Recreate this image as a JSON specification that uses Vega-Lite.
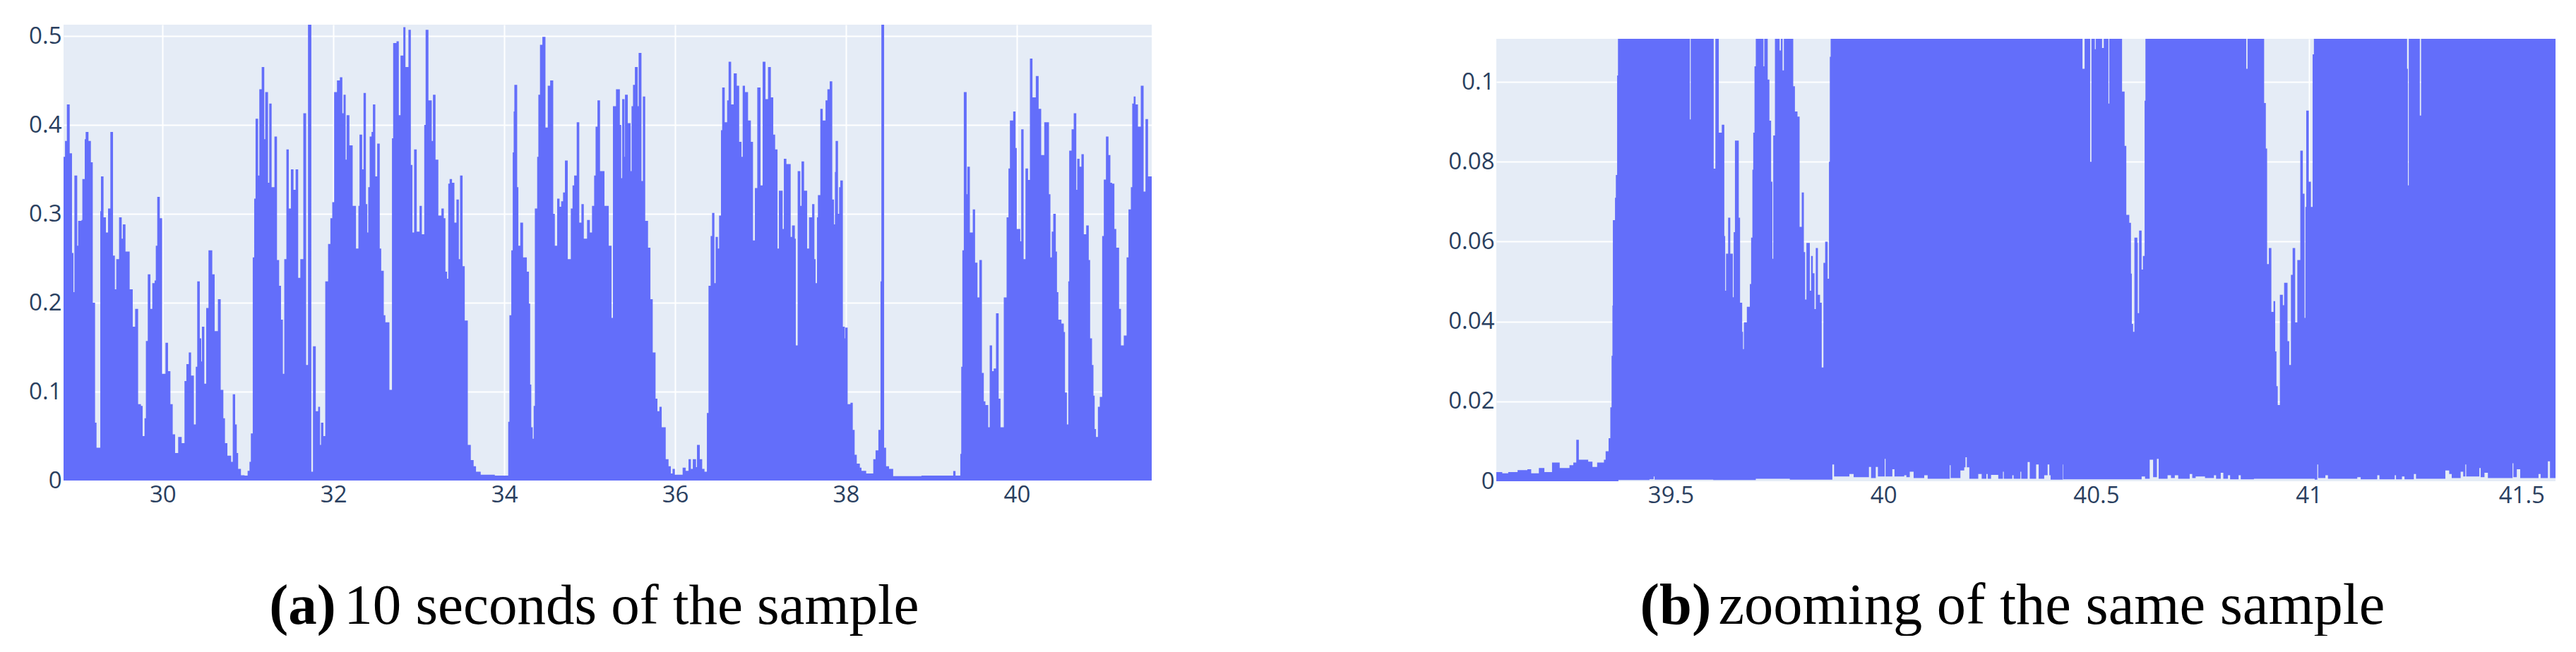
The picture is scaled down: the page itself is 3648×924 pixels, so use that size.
{"$schema":"https://vega.github.io/schema/vega-lite/v6.json","padding":{"left":40,"top":35,"right":0,"bottom":0},"background":"white","spacing":419,"config":{"view":{"fill":"#e5ecf6","stroke":null},"font":"Open Sans","axis":{"domain":false,"ticks":false,"grid":true,"gridColor":"white","gridWidth":2,"labelFont":"Open Sans","labelFontSize":33,"labelColor":"#2a3f5f","title":null,"labelPadding":3,"labelFlush":false,"labelOverlap":false}},
"datasets":{
"a":[{"t":28.84,"v":0.364},{"t":28.857,"v":0.382},{"t":28.879,"v":0.423},{"t":28.912,"v":0.368},{"t":28.939,"v":0.256},{"t":28.956,"v":0.212},{"t":28.967,"v":0.343},{"t":29.0,"v":0.264},{"t":29.011,"v":0.292},{"t":29.05,"v":0.293},{"t":29.06,"v":0.339},{"t":29.088,"v":0.384},{"t":29.099,"v":0.392},{"t":29.132,"v":0.382},{"t":29.16,"v":0.358},{"t":29.182,"v":0.2},{"t":29.209,"v":0.065},{"t":29.226,"v":0.037},{"t":29.27,"v":0.303},{"t":29.278,"v":0.342},{"t":29.308,"v":0.296},{"t":29.336,"v":0.279},{"t":29.361,"v":0.306},{"t":29.388,"v":0.392},{"t":29.419,"v":0.253},{"t":29.441,"v":0.215},{"t":29.457,"v":0.249},{"t":29.49,"v":0.296},{"t":29.521,"v":0.272},{"t":29.534,"v":0.288},{"t":29.565,"v":0.2575},{"t":29.614,"v":0.215},{"t":29.65,"v":0.173},{"t":29.678,"v":0.193},{"t":29.713,"v":0.086},{"t":29.746,"v":0.084},{"t":29.766,"v":0.05},{"t":29.788,"v":0.07},{"t":29.804,"v":0.157},{"t":29.826,"v":0.232},{"t":29.857,"v":0.193},{"t":29.879,"v":0.222},{"t":29.906,"v":0.225},{"t":29.92,"v":0.264},{"t":29.937,"v":0.319},{"t":29.967,"v":0.295},{"t":29.994,"v":0.12},{"t":30.033,"v":0.155},{"t":30.063,"v":0.123},{"t":30.091,"v":0.086},{"t":30.118,"v":0.052},{"t":30.146,"v":0.031},{"t":30.182,"v":0.049},{"t":30.223,"v":0.042},{"t":30.256,"v":0.112},{"t":30.278,"v":0.131},{"t":30.306,"v":0.144},{"t":30.333,"v":0.118},{"t":30.366,"v":0.063},{"t":30.388,"v":0.128},{"t":30.405,"v":0.224},{"t":30.435,"v":0.16},{"t":30.452,"v":0.134},{"t":30.46,"v":0.173},{"t":30.488,"v":0.109},{"t":30.51,"v":0.194},{"t":30.537,"v":0.259},{"t":30.581,"v":0.232},{"t":30.609,"v":0.168},{"t":30.647,"v":0.204},{"t":30.68,"v":0.102},{"t":30.711,"v":0.07},{"t":30.73,"v":0.042},{"t":30.758,"v":0.028},{"t":30.802,"v":0.021},{"t":30.821,"v":0.097},{"t":30.849,"v":0.063},{"t":30.868,"v":0.031},{"t":30.884,"v":0.013},{"t":30.917,"v":0.006},{"t":30.959,"v":0.0055},{"t":30.995,"v":0.011},{"t":31.017,"v":0.021},{"t":31.033,"v":0.053},{"t":31.055,"v":0.251},{"t":31.072,"v":0.317},{"t":31.088,"v":0.407},{"t":31.118,"v":0.343},{"t":31.132,"v":0.44},{"t":31.16,"v":0.465},{"t":31.19,"v":0.384},{"t":31.201,"v":0.437},{"t":31.234,"v":0.335},{"t":31.248,"v":0.424},{"t":31.276,"v":0.33},{"t":31.309,"v":0.387},{"t":31.339,"v":0.248},{"t":31.364,"v":0.219},{"t":31.386,"v":0.181},{"t":31.408,"v":0.12},{"t":31.424,"v":0.249},{"t":31.449,"v":0.3725},{"t":31.477,"v":0.306},{"t":31.502,"v":0.35},{"t":31.532,"v":0.327},{"t":31.557,"v":0.35},{"t":31.587,"v":0.228},{"t":31.612,"v":0.249},{"t":31.647,"v":0.413},{"t":31.68,"v":0.13},{"t":31.702,"v":0.52},{"t":31.741,"v":0.01},{"t":31.76,"v":0.151},{"t":31.793,"v":0.078},{"t":31.821,"v":0.083},{"t":31.843,"v":0.04},{"t":31.854,"v":0.065},{"t":31.882,"v":0.05},{"t":31.904,"v":0.224},{"t":31.937,"v":0.266},{"t":31.964,"v":0.295},{"t":31.986,"v":0.313},{"t":32.008,"v":0.437},{"t":32.041,"v":0.45},{"t":32.075,"v":0.4535},{"t":32.104,"v":0.413},{"t":32.118,"v":0.434},{"t":32.143,"v":0.361},{"t":32.154,"v":0.411},{"t":32.187,"v":0.377},{"t":32.225,"v":0.309},{"t":32.264,"v":0.261},{"t":32.292,"v":0.309},{"t":32.305,"v":0.389},{"t":32.336,"v":0.35},{"t":32.352,"v":0.436},{"t":32.38,"v":0.311},{"t":32.396,"v":0.279},{"t":32.407,"v":0.33},{"t":32.424,"v":0.387},{"t":32.446,"v":0.392},{"t":32.462,"v":0.423},{"t":32.49,"v":0.342},{"t":32.512,"v":0.379},{"t":32.542,"v":0.261},{"t":32.559,"v":0.236},{"t":32.589,"v":0.186},{"t":32.608,"v":0.178},{"t":32.655,"v":0.102},{"t":32.685,"v":0.385},{"t":32.699,"v":0.492},{"t":32.738,"v":0.494},{"t":32.765,"v":0.411},{"t":32.785,"v":0.478},{"t":32.818,"v":0.51},{"t":32.843,"v":0.465},{"t":32.878,"v":0.507},{"t":32.906,"v":0.355},{"t":32.925,"v":0.279},{"t":32.944,"v":0.3725},{"t":32.975,"v":0.28},{"t":33.008,"v":0.309},{"t":33.035,"v":0.277},{"t":33.063,"v":0.4},{"t":33.079,"v":0.507},{"t":33.112,"v":0.4276},{"t":33.151,"v":0.382},{"t":33.165,"v":0.434},{"t":33.195,"v":0.361},{"t":33.228,"v":0.298},{"t":33.264,"v":0.306},{"t":33.292,"v":0.295},{"t":33.311,"v":0.235},{"t":33.33,"v":0.227},{"t":33.344,"v":0.334},{"t":33.36,"v":0.339},{"t":33.388,"v":0.335},{"t":33.416,"v":0.29},{"t":33.44,"v":0.316},{"t":33.468,"v":0.249},{"t":33.482,"v":0.343},{"t":33.512,"v":0.241},{"t":33.537,"v":0.18},{"t":33.573,"v":0.04},{"t":33.608,"v":0.023},{"t":33.641,"v":0.016},{"t":33.669,"v":0.01},{"t":33.724,"v":0.0065},{"t":33.889,"v":0.0055},{"t":34.046,"v":0.066},{"t":34.06,"v":0.186},{"t":34.082,"v":0.259},{"t":34.099,"v":0.369},{"t":34.11,"v":0.415},{"t":34.118,"v":0.445},{"t":34.151,"v":0.33},{"t":34.165,"v":0.264},{"t":34.187,"v":0.29},{"t":34.22,"v":0.251},{"t":34.264,"v":0.235},{"t":34.289,"v":0.199},{"t":34.303,"v":0.108},{"t":34.316,"v":0.06},{"t":34.333,"v":0.047},{"t":34.344,"v":0.084},{"t":34.358,"v":0.306},{"t":34.385,"v":0.364},{"t":34.399,"v":0.434},{"t":34.418,"v":0.49},{"t":34.446,"v":0.499},{"t":34.482,"v":0.397},{"t":34.509,"v":0.444},{"t":34.537,"v":0.45},{"t":34.573,"v":0.3},{"t":34.592,"v":0.264},{"t":34.619,"v":0.317},{"t":34.647,"v":0.308},{"t":34.666,"v":0.314},{"t":34.688,"v":0.324},{"t":34.71,"v":0.36},{"t":34.743,"v":0.249},{"t":34.779,"v":0.306},{"t":34.799,"v":0.332},{"t":34.818,"v":0.343},{"t":34.848,"v":0.403},{"t":34.878,"v":0.29},{"t":34.903,"v":0.311},{"t":34.931,"v":0.272},{"t":34.969,"v":0.293},{"t":35.002,"v":0.279},{"t":35.027,"v":0.309},{"t":35.052,"v":0.343},{"t":35.069,"v":0.398},{"t":35.091,"v":0.4276},{"t":35.121,"v":0.348},{"t":35.173,"v":0.309},{"t":35.223,"v":0.264},{"t":35.256,"v":0.183},{"t":35.272,"v":0.421},{"t":35.308,"v":0.44},{"t":35.353,"v":0.4},{"t":35.369,"v":0.34},{"t":35.38,"v":0.429},{"t":35.408,"v":0.364},{"t":35.413,"v":0.434},{"t":35.446,"v":0.402},{"t":35.479,"v":0.348},{"t":35.49,"v":0.421},{"t":35.507,"v":0.445},{"t":35.529,"v":0.465},{"t":35.562,"v":0.421},{"t":35.573,"v":0.481},{"t":35.606,"v":0.337},{"t":35.623,"v":0.432},{"t":35.65,"v":0.292},{"t":35.683,"v":0.262},{"t":35.711,"v":0.204},{"t":35.738,"v":0.144},{"t":35.771,"v":0.092},{"t":35.793,"v":0.078},{"t":35.816,"v":0.083},{"t":35.843,"v":0.06},{"t":35.89,"v":0.024},{"t":35.923,"v":0.016},{"t":35.95,"v":0.008},{"t":35.97,"v":0.013},{"t":35.997,"v":0.0065},{"t":36.088,"v":0.0145},{"t":36.124,"v":0.011},{"t":36.157,"v":0.024},{"t":36.185,"v":0.013},{"t":36.207,"v":0.024},{"t":36.245,"v":0.015},{"t":36.256,"v":0.04},{"t":36.289,"v":0.024},{"t":36.317,"v":0.013},{"t":36.344,"v":0.01},{"t":36.372,"v":0.076},{"t":36.391,"v":0.219},{"t":36.416,"v":0.275},{"t":36.433,"v":0.301},{"t":36.46,"v":0.222},{"t":36.474,"v":0.274},{"t":36.501,"v":0.261},{"t":36.515,"v":0.298},{"t":36.537,"v":0.394},{"t":36.551,"v":0.442},{"t":36.581,"v":0.403},{"t":36.609,"v":0.4276},{"t":36.626,"v":0.471},{"t":36.656,"v":0.423},{"t":36.686,"v":0.458},{"t":36.722,"v":0.444},{"t":36.75,"v":0.381},{"t":36.777,"v":0.364},{"t":36.791,"v":0.444},{"t":36.818,"v":0.437},{"t":36.854,"v":0.405},{"t":36.887,"v":0.381},{"t":36.912,"v":0.27},{"t":36.934,"v":0.329},{"t":36.962,"v":0.442},{"t":37.0,"v":0.332},{"t":37.025,"v":0.471},{"t":37.058,"v":0.429},{"t":37.088,"v":0.465},{"t":37.121,"v":0.431},{"t":37.149,"v":0.389},{"t":37.171,"v":0.3725},{"t":37.199,"v":0.261},{"t":37.215,"v":0.326},{"t":37.259,"v":0.283},{"t":37.273,"v":0.362},{"t":37.303,"v":0.356},{"t":37.353,"v":0.274},{"t":37.369,"v":0.287},{"t":37.402,"v":0.272},{"t":37.413,"v":0.152},{"t":37.435,"v":0.348},{"t":37.466,"v":0.309},{"t":37.48,"v":0.359},{"t":37.51,"v":0.326},{"t":37.546,"v":0.261},{"t":37.568,"v":0.296},{"t":37.604,"v":0.311},{"t":37.631,"v":0.249},{"t":37.645,"v":0.222},{"t":37.661,"v":0.296},{"t":37.672,"v":0.321},{"t":37.7,"v":0.418},{"t":37.728,"v":0.405},{"t":37.761,"v":0.4276},{"t":37.783,"v":0.44},{"t":37.81,"v":0.449},{"t":37.84,"v":0.316},{"t":37.86,"v":0.288},{"t":37.871,"v":0.347},{"t":37.879,"v":0.382},{"t":37.907,"v":0.3},{"t":37.92,"v":0.33},{"t":37.934,"v":0.3375},{"t":37.964,"v":0.173},{"t":37.987,"v":0.16},{"t":37.992,"v":0.172},{"t":38.02,"v":0.086},{"t":38.053,"v":0.0875},{"t":38.08,"v":0.057},{"t":38.102,"v":0.029},{"t":38.127,"v":0.019},{"t":38.163,"v":0.0145},{"t":38.182,"v":0.011},{"t":38.237,"v":0.008},{"t":38.32,"v":0.024},{"t":38.347,"v":0.034},{"t":38.38,"v":0.057},{"t":38.405,"v":0.224},{"t":38.415,"v":0.52},{"t":38.447,"v":0.037},{"t":38.47,"v":0.016},{"t":38.505,"v":0.013},{"t":38.553,"v":0.005},{"t":38.884,"v":0.0055},{"t":39.256,"v":0.0107},{"t":39.283,"v":0.0055},{"t":39.339,"v":0.03},{"t":39.35,"v":0.128},{"t":39.363,"v":0.259},{"t":39.38,"v":0.437},{"t":39.413,"v":0.322},{"t":39.421,"v":0.353},{"t":39.451,"v":0.279},{"t":39.485,"v":0.305},{"t":39.512,"v":0.245},{"t":39.54,"v":0.206},{"t":39.562,"v":0.248},{"t":39.592,"v":0.121},{"t":39.614,"v":0.089},{"t":39.633,"v":0.085},{"t":39.666,"v":0.06},{"t":39.683,"v":0.152},{"t":39.711,"v":0.123},{"t":39.73,"v":0.126},{"t":39.757,"v":0.188},{"t":39.788,"v":0.092},{"t":39.81,"v":0.06},{"t":39.848,"v":0.206},{"t":39.881,"v":0.296},{"t":39.903,"v":0.351},{"t":39.92,"v":0.405},{"t":39.958,"v":0.415},{"t":39.986,"v":0.374},{"t":40.0,"v":0.283},{"t":40.041,"v":0.269},{"t":40.052,"v":0.395},{"t":40.08,"v":0.249},{"t":40.102,"v":0.351},{"t":40.132,"v":0.338},{"t":40.154,"v":0.4746},{"t":40.184,"v":0.431},{"t":40.223,"v":0.455},{"t":40.256,"v":0.418},{"t":40.286,"v":0.366},{"t":40.322,"v":0.403},{"t":40.377,"v":0.322},{"t":40.394,"v":0.251},{"t":40.41,"v":0.28},{"t":40.427,"v":0.3},{"t":40.457,"v":0.2575},{"t":40.471,"v":0.212},{"t":40.487,"v":0.181},{"t":40.523,"v":0.1765},{"t":40.551,"v":0.167},{"t":40.565,"v":0.099},{"t":40.587,"v":0.063},{"t":40.603,"v":0.224},{"t":40.614,"v":0.371},{"t":40.642,"v":0.395},{"t":40.667,"v":0.413},{"t":40.697,"v":0.327},{"t":40.708,"v":0.362},{"t":40.735,"v":0.353},{"t":40.757,"v":0.367},{"t":40.785,"v":0.277},{"t":40.813,"v":0.287},{"t":40.843,"v":0.248},{"t":40.859,"v":0.16},{"t":40.881,"v":0.13},{"t":40.898,"v":0.0955},{"t":40.912,"v":0.058},{"t":40.928,"v":0.049},{"t":40.95,"v":0.083},{"t":40.972,"v":0.094},{"t":41.0,"v":0.275},{"t":41.019,"v":0.3385},{"t":41.044,"v":0.387},{"t":41.074,"v":0.366},{"t":41.096,"v":0.335},{"t":41.116,"v":0.334},{"t":41.143,"v":0.283},{"t":41.165,"v":0.262},{"t":41.198,"v":0.193},{"t":41.22,"v":0.152},{"t":41.253,"v":0.163},{"t":41.286,"v":0.251},{"t":41.308,"v":0.305},{"t":41.336,"v":0.33},{"t":41.352,"v":0.424},{"t":41.369,"v":0.432},{"t":41.391,"v":0.423},{"t":41.419,"v":0.398},{"t":41.452,"v":0.444},{"t":41.485,"v":0.325},{"t":41.507,"v":0.4065},{"t":41.537,"v":0.342},{"t":41.58,"v":0.342}],
"b":[{"t":39.09,"v":0.0023},{"t":39.104,"v":0.002},{"t":39.118,"v":0.0023},{"t":39.14,"v":0.0028},{"t":39.163,"v":0.003},{"t":39.172,"v":0.002},{"t":39.19,"v":0.0033},{"t":39.203,"v":0.0023},{"t":39.221,"v":0.0047},{"t":39.239,"v":0.0033},{"t":39.262,"v":0.004},{"t":39.271,"v":0.0047},{"t":39.278,"v":0.0104},{"t":39.284,"v":0.0054},{"t":39.306,"v":0.0049},{"t":39.316,"v":0.0036},{"t":39.327,"v":0.0047},{"t":39.343,"v":0.0054},{"t":39.347,"v":0.0075},{"t":39.354,"v":0.0108},{"t":39.358,"v":0.0185},{"t":39.361,"v":0.0314},{"t":39.363,"v":0.044},{"t":39.364,"v":0.0654},{"t":39.369,"v":0.071},{"t":39.371,"v":0.0767},{"t":39.374,"v":0.1016},{"t":39.376,"v":0.15},{"t":39.545,"v":0.0906},{"t":39.547,"v":0.15},{"t":39.601,"v":0.0783},{"t":39.605,"v":0.15},{"t":39.608,"v":0.15},{"t":39.613,"v":0.0873},{"t":39.62,"v":0.0893},{"t":39.626,"v":0.0614},{"t":39.628,"v":0.0477},{"t":39.63,"v":0.057},{"t":39.635,"v":0.066},{"t":39.64,"v":0.057},{"t":39.646,"v":0.0461},{"t":39.648,"v":0.0624},{"t":39.651,"v":0.0853},{"t":39.66,"v":0.066},{"t":39.663,"v":0.0447},{"t":39.668,"v":0.0374},{"t":39.67,"v":0.0331},{"t":39.672,"v":0.0398},{"t":39.679,"v":0.0437},{"t":39.686,"v":0.0494},{"t":39.689,"v":0.061},{"t":39.692,"v":0.078},{"t":39.694,"v":0.0873},{"t":39.697,"v":0.1039},{"t":39.7,"v":0.15},{"t":39.718,"v":0.1039},{"t":39.72,"v":0.15},{"t":39.728,"v":0.1006},{"t":39.732,"v":0.0903},{"t":39.736,"v":0.075},{"t":39.739,"v":0.0557},{"t":39.741,"v":0.0866},{"t":39.745,"v":0.15},{"t":39.756,"v":0.1079},{"t":39.759,"v":0.15},{"t":39.763,"v":0.1029},{"t":39.766,"v":0.15},{"t":39.788,"v":0.0989},{"t":39.792,"v":0.0926},{"t":39.798,"v":0.0913},{"t":39.803,"v":0.0637},{"t":39.808,"v":0.0723},{"t":39.813,"v":0.0574},{"t":39.816,"v":0.0455},{"t":39.819,"v":0.0597},{"t":39.827,"v":0.0477},{"t":39.83,"v":0.0564},{"t":39.834,"v":0.0521},{"t":39.838,"v":0.0431},{"t":39.841,"v":0.0584},{"t":39.846,"v":0.0467},{"t":39.851,"v":0.0447},{"t":39.855,"v":0.0285},{"t":39.859,"v":0.0547},{"t":39.863,"v":0.06},{"t":39.869,"v":0.0507},{"t":39.872,"v":0.08},{"t":39.874,"v":0.1063},{"t":39.876,"v":0.15},{"t":40.468,"v":0.1033},{"t":40.473,"v":0.15},{"t":40.486,"v":0.08},{"t":40.489,"v":0.15},{"t":40.497,"v":0.1082},{"t":40.499,"v":0.15},{"t":40.514,"v":0.1085},{"t":40.518,"v":0.15},{"t":40.529,"v":0.0946},{"t":40.531,"v":0.15},{"t":40.561,"v":0.0976},{"t":40.567,"v":0.084},{"t":40.571,"v":0.0667},{"t":40.578,"v":0.0647},{"t":40.582,"v":0.052},{"t":40.584,"v":0.0394},{"t":40.587,"v":0.0374},{"t":40.59,"v":0.061},{"t":40.597,"v":0.0597},{"t":40.598,"v":0.0421},{"t":40.601,"v":0.0628},{"t":40.607,"v":0.053},{"t":40.61,"v":0.0564},{"t":40.614,"v":0.0953},{"t":40.616,"v":0.15},{"t":40.853,"v":0.1033},{"t":40.856,"v":0.15},{"t":40.895,"v":0.0947},{"t":40.899,"v":0.0833},{"t":40.902,"v":0.0544},{"t":40.906,"v":0.0584},{"t":40.912,"v":0.0424},{"t":40.917,"v":0.0451},{"t":40.921,"v":0.0325},{"t":40.924,"v":0.0238},{"t":40.927,"v":0.0191},{"t":40.932,"v":0.0467},{"t":40.939,"v":0.0441},{"t":40.942,"v":0.0497},{"t":40.95,"v":0.0351},{"t":40.954,"v":0.0291},{"t":40.958,"v":0.0517},{"t":40.962,"v":0.0584},{"t":40.968,"v":0.0398},{"t":40.973,"v":0.0554},{"t":40.98,"v":0.0828},{"t":40.986,"v":0.072},{"t":40.99,"v":0.0409},{"t":40.992,"v":0.0687},{"t":40.994,"v":0.0928},{"t":41.0,"v":0.075},{"t":41.005,"v":0.0687},{"t":41.009,"v":0.1069},{"t":41.012,"v":0.15},{"t":41.231,"v":0.1033},{"t":41.233,"v":0.0741},{"t":41.235,"v":0.15},{"t":41.261,"v":0.0916},{"t":41.264,"v":0.15},{"t":41.58,"v":0.15}],
"lo":[{"t":39.377,"v":0.0003},{"t":39.45,"v":0.0005},{"t":39.46,"v":0.0012},{"t":39.462,"v":0.0004},{"t":39.6,"v":0.0003},{"t":39.7,"v":0.0006},{"t":39.78,"v":0.0004},{"t":39.88,"v":0.0042},{"t":39.884,"v":0.0012},{"t":39.92,"v":0.0018},{"t":39.93,"v":0.001},{"t":39.966,"v":0.0036},{"t":39.971,"v":0.0008},{"t":39.982,"v":0.0036},{"t":39.987,"v":0.0012},{"t":40.003,"v":0.0056},{"t":40.005,"v":0.0012},{"t":40.021,"v":0.003},{"t":40.026,"v":0.0012},{"t":40.049,"v":0.0015},{"t":40.054,"v":0.001},{"t":40.062,"v":0.0024},{"t":40.071,"v":0.0008},{"t":40.096,"v":0.0015},{"t":40.104,"v":0.0006},{"t":40.156,"v":0.004},{"t":40.158,"v":0.0008},{"t":40.181,"v":0.0027},{"t":40.19,"v":0.0035},{"t":40.193,"v":0.006},{"t":40.196,"v":0.0035},{"t":40.202,"v":0.0006},{"t":40.223,"v":0.0018},{"t":40.231,"v":0.0006},{"t":40.242,"v":0.0018},{"t":40.245,"v":0.0006},{"t":40.253,"v":0.0016},{"t":40.27,"v":0.0006},{"t":40.281,"v":0.0024},{"t":40.283,"v":0.0006},{"t":40.303,"v":0.0015},{"t":40.306,"v":0.0006},{"t":40.322,"v":0.0024},{"t":40.324,"v":0.0006},{"t":40.339,"v":0.0048},{"t":40.344,"v":0.0006},{"t":40.359,"v":0.0042},{"t":40.365,"v":0.0006},{"t":40.378,"v":0.0015},{"t":40.386,"v":0.0042},{"t":40.39,"v":0.0015},{"t":40.393,"v":0.0004},{"t":40.422,"v":0.0042},{"t":40.423,"v":0.0005},{"t":40.607,"v":0.0012},{"t":40.615,"v":0.0006},{"t":40.626,"v":0.0054},{"t":40.634,"v":0.001},{"t":40.643,"v":0.0056},{"t":40.647,"v":0.0006},{"t":40.668,"v":0.0015},{"t":40.676,"v":0.0008},{"t":40.685,"v":0.0015},{"t":40.693,"v":0.0006},{"t":40.72,"v":0.0018},{"t":40.726,"v":0.0008},{"t":40.734,"v":0.0012},{"t":40.756,"v":0.0008},{"t":40.777,"v":0.0015},{"t":40.782,"v":0.0006},{"t":40.793,"v":0.0021},{"t":40.799,"v":0.0006},{"t":40.81,"v":0.0015},{"t":40.815,"v":0.0005},{"t":40.835,"v":0.0015},{"t":40.84,"v":0.0005},{"t":40.871,"v":0.0006},{"t":41.014,"v":0.0004},{"t":41.02,"v":0.0042},{"t":41.022,"v":0.0008},{"t":41.039,"v":0.0015},{"t":41.045,"v":0.0006},{"t":41.114,"v":0.001},{"t":41.122,"v":0.0005},{"t":41.161,"v":0.0015},{"t":41.166,"v":0.0005},{"t":41.202,"v":0.0015},{"t":41.205,"v":0.0005},{"t":41.219,"v":0.0012},{"t":41.225,"v":0.0005},{"t":41.247,"v":0.0018},{"t":41.252,"v":0.0006},{"t":41.321,"v":0.0027},{"t":41.33,"v":0.0018},{"t":41.336,"v":0.0008},{"t":41.357,"v":0.0024},{"t":41.363,"v":0.0012},{"t":41.368,"v":0.0042},{"t":41.37,"v":0.0012},{"t":41.401,"v":0.0033},{"t":41.404,"v":0.001},{"t":41.413,"v":0.0021},{"t":41.421,"v":0.0008},{"t":41.479,"v":0.0045},{"t":41.481,"v":0.001},{"t":41.489,"v":0.003},{"t":41.497,"v":0.0008},{"t":41.54,"v":0.0018},{"t":41.545,"v":0.0008},{"t":41.562,"v":0.005},{"t":41.567,"v":0.0008},{"t":41.58,"v":0.0008}],
"capA":[{"t":31.248,"v":-0.1611,"label":"(a)","w":"bold"},{"t":32.124,"v":-0.1611,"label":"10 seconds of the sample","w":"normal"}],
"capB":[{"t":39.428,"v":-0.0357,"label":"(b)","w":"bold"},{"t":39.612,"v":-0.0357,"label":"zooming of the same sample","w":"normal"}],
"empty":[]
},
"hconcat":[
{"width":1541,"height":646,
"encoding":{"x":{"field":"t","type":"quantitative","scale":{"domain":[28.84,41.58],"nice":false,"zero":false},"axis":{"values":[30,32,34,36,38,40],"format":"~g","labelPadding":4}},"y":{"field":"v","type":"quantitative","scale":{"domain":[0,0.5127],"nice":false,"clamp":false},"axis":{"values":[0,0.1,0.2,0.3,0.4,0.5],"format":"~g"}}},
"layer":[
{"data":{"name":"a"},"mark":{"type":"area","interpolate":"step-after","color":"#636efa","clip":true,"line":false}},
{"data":{"name":"capA"},"transform":[{"filter":"datum.w=='bold'"}],"mark":{"type":"text","align":"left","baseline":"alphabetic","font":"Liberation Serif","fontSize":81,"fontWeight":"bold","color":"black"},"encoding":{"text":{"field":"label"}}},
{"data":{"name":"capA"},"transform":[{"filter":"datum.w=='normal'"}],"mark":{"type":"text","align":"left","baseline":"alphabetic","font":"Liberation Serif","fontSize":81,"color":"black"},"encoding":{"text":{"field":"label"}}}
]},
{"spacing":19,"vconcat":[
{"width":1,"height":1,"view":{"fill":null,"stroke":null},"data":{"name":"empty"},"mark":{"type":"rule"},"encoding":{}},
{"width":1500,"height":627,
"encoding":{"x":{"field":"t","type":"quantitative","scale":{"domain":[39.09,41.58],"nice":false,"zero":false},"axis":{"values":[39.5,40,40.5,41,41.5],"format":"~g","labelPadding":4}},"y":{"field":"v","type":"quantitative","scale":{"domain":[0,0.1108],"nice":false},"axis":{"values":[0,0.02,0.04,0.06,0.08,0.1],"format":"~g"}}},
"layer":[
{"data":{"name":"b"},"mark":{"type":"area","interpolate":"step-after","color":"#636efa","clip":true,"line":false}},
{"data":{"name":"lo"},"mark":{"type":"area","interpolate":"step-after","color":"#e5ecf6","clip":true}},
{"data":{"name":"capB"},"transform":[{"filter":"datum.w=='bold'"}],"mark":{"type":"text","align":"left","baseline":"alphabetic","font":"Liberation Serif","fontSize":82.5,"fontWeight":"bold","color":"black"},"encoding":{"text":{"field":"label"}}},
{"data":{"name":"capB"},"transform":[{"filter":"datum.w=='normal'"}],"mark":{"type":"text","align":"left","baseline":"alphabetic","font":"Liberation Serif","fontSize":82.5,"color":"black"},"encoding":{"text":{"field":"label"}}}
]}
]}
]}
